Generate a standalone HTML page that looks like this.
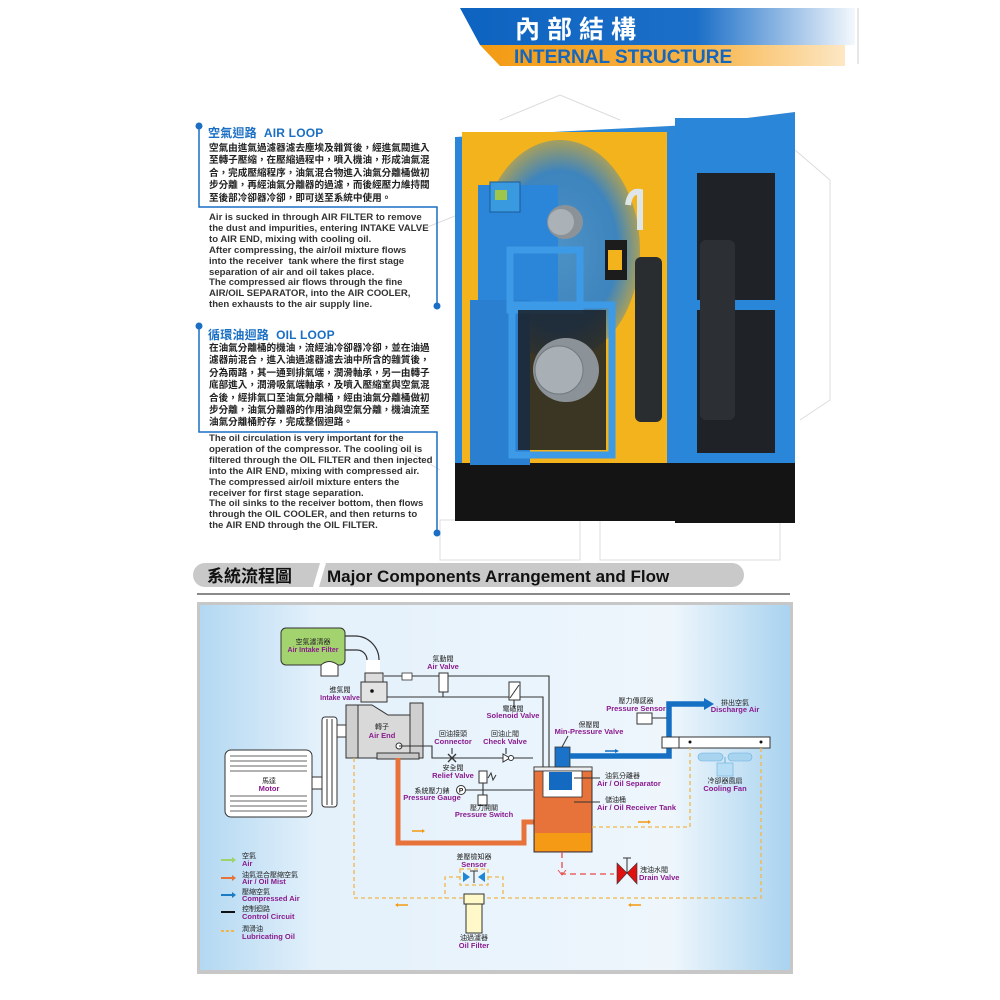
<!DOCTYPE html>
<html><head><meta charset="utf-8">
<style>
html,body{margin:0;padding:0;background:#fff;}
body{width:1000px;height:1000px;position:relative;overflow:hidden;font-family:"Liberation Sans","Noto Sans CJK TC",sans-serif;}
.p{position:absolute;font-weight:bold;color:#222;white-space:nowrap;}
.zh{font-size:9.6px;line-height:12.4px;letter-spacing:0;}
.en{font-size:9.6px;line-height:10.9px;color:#333;}
.ttl{font-size:12px;color:#1a6fc4;font-weight:bold;position:absolute;letter-spacing:0.2px;white-space:nowrap;}
svg{position:absolute;left:0;top:0;}
.b{font-weight:bold;}
</style></head><body>
<svg width="1000" height="1000" viewBox="0 0 1000 1000" font-family="Liberation Sans, Noto Sans CJK TC, sans-serif">
<defs>
<linearGradient id="hb" x1="0" x2="1"><stop offset="0" stop-color="#0d63c0"/><stop offset="0.6" stop-color="#1c6fc8"/><stop offset="1" stop-color="#f4f8fc"/></linearGradient>
<linearGradient id="ho" x1="0" x2="1"><stop offset="0" stop-color="#f39a12"/><stop offset="0.6" stop-color="#f7b448"/><stop offset="1" stop-color="#fde7c4"/></linearGradient>
<linearGradient id="bg" x1="0" x2="1"><stop offset="0" stop-color="#b3d8f2"/><stop offset="0.2" stop-color="#e4f1fb"/><stop offset="0.8" stop-color="#eef6fc"/><stop offset="1" stop-color="#a9d3ef"/></linearGradient>
<radialGradient id="yl" cx="0.5" cy="0.5" r="0.6"><stop offset="0" stop-color="#3a8ed8"/><stop offset="0.6" stop-color="#2a7fcf"/><stop offset="1" stop-color="#f0b21a"/></radialGradient>
</defs>
<!-- header -->
<polygon points="460,8 855,8 855,45 480,45" fill="url(#hb)"/>
<polygon points="480,45 845,45 845,66 500,66" fill="url(#ho)"/>
<line x1="858" y1="8" x2="858" y2="64" stroke="#e6e6e6" stroke-width="2"/>
<text x="515" y="38" font-size="25" class="b" fill="#fff" letter-spacing="7">內部結構</text>
<text x="514" y="63" font-size="19" class="b" fill="#1466be">INTERNAL STRUCTURE</text>
<!-- faint background drawings -->
<g stroke="#dcdcdc" fill="none" stroke-width="1">
<polyline points="500,120 560,95 620,120"/><polyline points="420,230 470,210"/>
<rect x="440" y="520" width="140" height="40"/><rect x="600" y="520" width="180" height="40"/>
<polyline points="795,150 830,180 830,400 800,420"/><polyline points="390,440 440,470"/>
</g>
<!-- machine -->
<polygon points="455,137 690,125 795,112 795,135 690,140" fill="#2e86d6"/>
<rect x="455" y="137" width="220" height="343" fill="#2b85d8"/>
<rect x="462" y="132" width="205" height="331" fill="#f2b31c"/>
<rect x="675" y="118" width="120" height="382" fill="#2a86d8"/>
<rect x="697" y="173" width="78" height="280" fill="#1f2328"/>
<rect x="683" y="300" width="100" height="10" fill="#2a86d8"/>
<rect x="455" y="463" width="220" height="58" fill="#141414"/>
<rect x="675" y="463" width="120" height="60" fill="#141414"/>
<ellipse cx="560" cy="250" rx="80" ry="110" fill="url(#yl)" opacity="0.9"/>
<rect x="478" y="185" width="80" height="120" fill="#2b85d8"/>
<rect x="490" y="182" width="30" height="30" fill="#3a9adf" stroke="#1a5a9a"/>
<rect x="495" y="190" width="12" height="10" fill="#9ec64a"/>
<rect x="470" y="300" width="60" height="165" fill="#2b7fd0"/>
<rect x="510" y="250" width="70" height="60" fill="none" stroke="#3c9ae6" stroke-width="7"/>
<rect x="512" y="305" width="100" height="150" fill="none" stroke="#3c9ae6" stroke-width="7"/>
<rect x="518" y="310" width="88" height="140" fill="#1b1f24" opacity="0.85"/>
<ellipse cx="566" cy="370" rx="33" ry="32" fill="#8b9398"/>
<circle cx="559" cy="370" r="24" fill="#a8b0b5" stroke="#707a80"/>
<ellipse cx="565" cy="222" rx="18" ry="17" fill="#8b9398"/>
<circle cx="561" cy="222" r="13" fill="#aab2b7"/>
<rect x="635" y="257" width="27" height="165" rx="6" fill="#2a2d30"/>
<rect x="700" y="240" width="35" height="180" rx="6" fill="#2c2f33"/>
<rect x="605" y="240" width="22" height="40" fill="#1c1c1c"/>
<rect x="608" y="250" width="14" height="20" fill="#f2b31c"/>
<path d="M628,205 Q630,190 640,192 L640,230" stroke="#dfe6ea" stroke-width="6" fill="none"/>
<!-- text brackets -->
<g stroke="#1a6fc4" stroke-width="1.5" fill="none">
<polyline points="199,128 199,207 437,207 437,304"/>
<polyline points="199,328 199,432 437,432 437,531"/>
</g>
<g fill="#1a6fc4"><circle cx="199" cy="126" r="3.5"/><circle cx="437" cy="306" r="3.5"/><circle cx="199" cy="326" r="3.5"/><circle cx="437" cy="533" r="3.5"/></g>
<!-- section title -->
<path d="M205,563 H732 A12,12 0 0 1 732,587 H205 A12,12 0 0 1 205,563 Z" fill="#c9c9c9"/>
<polygon points="313,587 320,563 326,563 319,587" fill="#fff"/>
<text x="207" y="582" font-size="17" class="b" fill="#111">系統流程圖</text>
<text x="327" y="582" font-size="17" class="b" fill="#111">Major Components Arrangement and Flow</text>
<line x1="197" y1="594" x2="790" y2="594" stroke="#8a8a8a" stroke-width="2"/>
<!-- diagram frame -->
<rect x="197" y="602" width="596" height="372" fill="#c7c7c7"/>
<rect x="200" y="605" width="590" height="365" fill="url(#bg)"/>
<!-- filter -->
<path d="M343,636 H355 A24,24 0 0 1 379,660 V684" stroke="#333" stroke-width="1.2" fill="none"/>
<path d="M343,650 H357 A10,10 0 0 1 367,660 V684" stroke="#333" stroke-width="1.2" fill="none"/>
<rect x="366" y="660" width="14" height="24" fill="#fff"/>
<rect x="281" y="628" width="64" height="37" rx="5" fill="#a3d36e" stroke="#333"/>
<path d="M321,676 V665 Q329,658 338,665 V676 Z" fill="#fff" stroke="#333"/>
<text x="313" y="644" font-size="7" text-anchor="middle" fill="#222">空氣濾清器</text>
<text x="313" y="652" font-size="7" class="b" text-anchor="middle" fill="#8a1b8e">Air Intake Filter</text>
<!-- intake valve & air end -->
<rect x="365" y="673" width="18" height="9" fill="#ddd" stroke="#333"/>
<rect x="361" y="682" width="26" height="20" fill="#e3e3e3" stroke="#333"/>
<circle cx="372" cy="691" r="1.8" fill="#111"/>
<text x="340" y="692" font-size="7" text-anchor="middle" fill="#222">進氣閥</text>
<text x="340" y="700" font-size="7" class="b" text-anchor="middle" fill="#8a1b8e">Intake valve</text>
<path d="M346,705 H372 L388,715 H410 V703 H423 V758 H346 Z" fill="#d9d9d9" stroke="#333"/>
<rect x="346" y="705" width="12" height="53" fill="#cfcfcf" stroke="#333"/>
<rect x="410" y="703" width="13" height="55" fill="#cfcfcf" stroke="#333"/>
<rect x="377" y="753" width="42" height="6" fill="#c8c8c8" stroke="#333"/>
<circle cx="399" cy="746" r="3" fill="#fff" stroke="#333"/>
<text x="382" y="729" font-size="7" text-anchor="middle" fill="#222">轉子</text>
<text x="382" y="738" font-size="7.5" class="b" text-anchor="middle" fill="#8a1b8e">Air End</text>
<!-- pulley & motor -->
<rect x="337" y="725" width="9" height="12" fill="#fff" stroke="#333"/>
<rect x="322" y="717" width="15" height="90" rx="3" fill="#fff" stroke="#333"/>
<line x1="327" y1="719" x2="327" y2="805" stroke="#333"/><line x1="332" y1="719" x2="332" y2="805" stroke="#333"/>
<rect x="312" y="777" width="10" height="12" fill="#fff" stroke="#333"/>
<rect x="225" y="750" width="87" height="67" rx="6" fill="#fff" stroke="#333"/>
<g stroke="#333" stroke-width="0.8"><line x1="230" y1="756" x2="307" y2="756"/><line x1="230" y1="761" x2="307" y2="761"/><line x1="230" y1="766" x2="307" y2="766"/><line x1="230" y1="771" x2="307" y2="771"/><line x1="230" y1="796" x2="307" y2="796"/><line x1="230" y1="801" x2="307" y2="801"/><line x1="230" y1="806" x2="307" y2="806"/><line x1="230" y1="811" x2="307" y2="811"/></g>
<text x="269" y="783" font-size="7" text-anchor="middle" fill="#222">馬達</text>
<text x="269" y="791" font-size="7.5" class="b" text-anchor="middle" fill="#8a1b8e">Motor</text>
<!-- control lines -->
<g stroke="#333" stroke-width="1.1" fill="none">
<polyline points="384,676 549,676 549,767"/>
<polyline points="387,697 543,697 543,767"/>
<polyline points="399,746 432,746 432,758 533,758"/>
<line x1="465" y1="790" x2="533" y2="790"/>
<line x1="483" y1="772" x2="483" y2="795"/>
<line x1="443" y1="692" x2="443" y2="697"/>
<line x1="514" y1="700" x2="514" y2="708"/>
<line x1="452" y1="748" x2="452" y2="754"/>
<line x1="506" y1="748" x2="506" y2="754"/>
</g>
<rect x="402" y="673" width="10" height="7" fill="#fff" stroke="#333" stroke-width="0.8"/>
<rect x="439" y="673" width="9" height="19" fill="#fff" stroke="#333"/>
<text x="443" y="661" font-size="7" text-anchor="middle" fill="#222">氣動閥</text>
<text x="443" y="669" font-size="7.5" class="b" text-anchor="middle" fill="#8a1b8e">Air Valve</text>
<rect x="509" y="682" width="11" height="18" fill="#fff" stroke="#333"/>
<line x1="510" y1="698" x2="519" y2="685" stroke="#333"/>
<text x="513" y="711" font-size="7" text-anchor="middle" fill="#222">電磁閥</text>
<text x="513" y="718" font-size="7.5" class="b" text-anchor="middle" fill="#8a1b8e">Solenoid Valve</text>
<path d="M448,754 L456,762 M456,754 L448,762" stroke="#333" stroke-width="1.3"/>
<text x="453" y="736" font-size="7" text-anchor="middle" fill="#222">回油接頭</text>
<text x="453" y="744" font-size="7.5" class="b" text-anchor="middle" fill="#8a1b8e">Connector</text>
<polygon points="503,754 503,762 510,758" fill="#fff" stroke="#333"/><circle cx="511" cy="758" r="2.5" fill="#fff" stroke="#333"/>
<text x="505" y="736" font-size="7" text-anchor="middle" fill="#222">回油止閥</text>
<text x="505" y="744" font-size="7.5" class="b" text-anchor="middle" fill="#8a1b8e">Check Valve</text>
<text x="453" y="770" font-size="7" text-anchor="middle" fill="#222">安全閥</text>
<text x="453" y="778" font-size="7.5" class="b" text-anchor="middle" fill="#8a1b8e">Relief Valve</text>
<rect x="479" y="771" width="8" height="12" fill="#fff" stroke="#333"/>
<polyline points="488,778 491,773 493,780 496,775" stroke="#333" fill="none"/>
<circle cx="461" cy="790" r="4.5" fill="#fff" stroke="#333"/>
<text x="461" y="792.5" font-size="6.5" class="b" text-anchor="middle" fill="#111">P</text>
<text x="432" y="793" font-size="7" text-anchor="middle" fill="#222">系統壓力錶</text>
<text x="432" y="800" font-size="7.5" class="b" text-anchor="middle" fill="#8a1b8e">Pressure Gauge</text>
<rect x="478" y="795" width="9" height="10" fill="#fff" stroke="#333"/>
<text x="484" y="810" font-size="7" text-anchor="middle" fill="#222">壓力開關</text>
<text x="484" y="817" font-size="7.5" class="b" text-anchor="middle" fill="#8a1b8e">Pressure Switch</text>
<!-- oil pipe -->
<polyline points="398,758 398,843 524,843 524,822 534,822" stroke="#e8733a" stroke-width="5" fill="none"/>
<line x1="412" y1="831" x2="422" y2="831" stroke="#f39a12" stroke-width="1.5"/><polygon points="422,829 425,831 422,833" fill="#f39a12"/>
<!-- tank -->
<rect x="534" y="767" width="58" height="85" fill="#e8733a" stroke="#333"/>
<rect x="535" y="833" width="56" height="18" fill="#f59a14"/>
<rect x="534" y="767" width="58" height="4" fill="#eee" stroke="#333" stroke-width="0.8"/>
<rect x="543" y="771" width="39" height="26" fill="#fff" stroke="#333" stroke-width="0.8"/>
<rect x="549" y="772" width="23" height="18" fill="#1469c0"/>
<rect x="555" y="747" width="15" height="20" fill="#1a73c8" stroke="#333" stroke-width="0.8"/>
<line x1="562" y1="747" x2="568" y2="736" stroke="#333"/>
<text x="589" y="727" font-size="7" text-anchor="middle" fill="#222">保壓閥</text>
<text x="589" y="734" font-size="7.5" class="b" text-anchor="middle" fill="#8a1b8e">Min-Pressure Valve</text>
<g stroke="#333"><line x1="574" y1="778" x2="600" y2="778"/><line x1="574" y1="802" x2="600" y2="802"/></g>
<text x="605" y="778" font-size="7" fill="#222">油氣分離器</text>
<text x="597" y="786" font-size="7.5" class="b" fill="#8a1b8e">Air / Oil Separator</text>
<text x="605" y="802" font-size="7" fill="#222">儲油桶</text>
<text x="597" y="810" font-size="7.5" class="b" fill="#8a1b8e">Air / Oil Receiver Tank</text>
<!-- compressed air -->
<polyline points="570,756 669,756 669,704 705,704" stroke="#1570c3" stroke-width="5.5" fill="none"/>
<polygon points="704,698 714,704 704,710" fill="#1570c3"/>
<line x1="605" y1="751" x2="615" y2="751" stroke="#1570c3" stroke-width="1.5"/><polygon points="615,749 619,751 615,753" fill="#1570c3"/>
<rect x="637" y="713" width="15" height="11" fill="#fff" stroke="#333"/>
<line x1="652" y1="718" x2="667" y2="718" stroke="#333"/>
<text x="636" y="703" font-size="7" text-anchor="middle" fill="#222">壓力傳感器</text>
<text x="636" y="711" font-size="7.5" class="b" text-anchor="middle" fill="#8a1b8e">Pressure Sensor</text>
<text x="735" y="705" font-size="7" text-anchor="middle" fill="#222">排出空氣</text>
<text x="735" y="712" font-size="7.5" class="b" text-anchor="middle" fill="#8a1b8e">Discharge Air</text>
<rect x="662" y="737" width="108" height="11" fill="#fff" stroke="#333"/>
<line x1="679" y1="737" x2="679" y2="748" stroke="#333"/>
<circle cx="690" cy="742" r="1.5" fill="#111"/><circle cx="761" cy="742" r="1.5" fill="#111"/>
<rect x="698" y="753" width="25" height="8" rx="4" fill="#a8d4f0" stroke="#6aaee0" stroke-width="0.6"/>
<rect x="728" y="753" width="24" height="8" rx="4" fill="#a8d4f0" stroke="#6aaee0" stroke-width="0.6"/>
<rect x="717" y="763" width="16" height="13" fill="#b8def5" stroke="#6aaee0" stroke-width="0.6"/>
<line x1="725" y1="757" x2="725" y2="763" stroke="#6aaee0"/>
<text x="725" y="783" font-size="7" text-anchor="middle" fill="#222">冷卻器風扇</text>
<text x="725" y="791" font-size="7.5" class="b" text-anchor="middle" fill="#8a1b8e">Cooling Fan</text>
<!-- lubricating oil dashed -->
<g stroke="#f0b64a" stroke-width="1.3" fill="none" stroke-dasharray="4,3">
<polyline points="354,758 354,898 761,898 761,748"/>
<polyline points="592,827 690,827 690,748"/>
<polyline points="460,877 445,877 445,898"/>
<polyline points="488,877 503,877 503,898"/>
<rect x="460" y="869" width="28" height="16"/>
</g>
<line x1="638" y1="822" x2="648" y2="822" stroke="#f39a12" stroke-width="1.5"/><polygon points="648,820 651,822 648,824" fill="#f39a12"/>
<line x1="398" y1="905" x2="408" y2="905" stroke="#f39a12" stroke-width="1.5"/><polygon points="398,903 395,905 398,907" fill="#f39a12"/>
<line x1="631" y1="905" x2="641" y2="905" stroke="#f39a12" stroke-width="1.5"/><polygon points="631,903 628,905 631,907" fill="#f39a12"/>
<polygon points="463,872 470,877 463,882" fill="#1f86d6"/><polygon points="485,872 478,877 485,882" fill="#1f86d6"/>
<line x1="470" y1="871" x2="478" y2="871" stroke="#333"/><line x1="474" y1="871" x2="474" y2="883" stroke="#333"/>
<text x="474" y="859" font-size="7" text-anchor="middle" fill="#222">差壓檢知器</text>
<text x="474" y="867" font-size="7.5" class="b" text-anchor="middle" fill="#8a1b8e">Sensor</text>
<rect x="464" y="894" width="20" height="10" fill="#fff8c8" stroke="#333"/>
<rect x="466" y="904" width="16" height="29" fill="#fff8c8" stroke="#333"/>
<text x="474" y="940" font-size="7" text-anchor="middle" fill="#222">油過濾器</text>
<text x="474" y="948" font-size="7.5" class="b" text-anchor="middle" fill="#8a1b8e">Oil Filter</text>
<!-- drain -->
<polyline points="562,852 562,874 614,874" stroke="#e8494a" stroke-width="1.3" fill="none" stroke-dasharray="6,4"/>
<polyline points="558,870 562,875 566,870" stroke="#e8494a" fill="none"/>
<polygon points="617,863 627,873 617,884" fill="#e01010" stroke="#333" stroke-width="0.6"/>
<polygon points="637,863 627,873 637,884" fill="#e01010" stroke="#333" stroke-width="0.6"/>
<line x1="627" y1="873" x2="627" y2="858" stroke="#333"/><line x1="623" y1="858" x2="631" y2="858" stroke="#333"/>
<text x="640" y="872" font-size="7" fill="#222">洩油水閥</text>
<text x="639" y="880" font-size="7.5" class="b" fill="#8a1b8e">Drain Valve</text>
<!-- legend -->
<g stroke-width="2">
<line x1="221" y1="860" x2="232" y2="860" stroke="#9ed36a"/><polygon points="232,857 236,860 232,863" fill="#9ed36a"/>
<line x1="221" y1="878" x2="232" y2="878" stroke="#e8733a"/><polygon points="232,875 236,878 232,881" fill="#e8733a"/>
<line x1="221" y1="895" x2="232" y2="895" stroke="#1a7cc4"/><polygon points="232,892 236,895 232,898" fill="#1a7cc4"/>
<line x1="221" y1="912" x2="235" y2="912" stroke="#111"/>
<line x1="221" y1="931" x2="235" y2="931" stroke="#f0b64a" stroke-dasharray="3,2"/>
</g>
<g font-size="7">
<text x="242" y="858" fill="#222">空氣</text><text x="242" y="866" class="b" font-size="7.5" fill="#8a1b8e">Air</text>
<text x="242" y="877" fill="#222">油氣混合壓縮空氣</text><text x="242" y="884" class="b" font-size="7.5" fill="#8a1b8e">Air / Oil Mist</text>
<text x="242" y="894" fill="#222">壓縮空氣</text><text x="242" y="901" class="b" font-size="7.5" fill="#8a1b8e">Compressed Air</text>
<text x="242" y="911" fill="#222">控制迴路</text><text x="242" y="919" class="b" font-size="7.5" fill="#8a1b8e">Control Circuit</text>
<text x="242" y="931" fill="#222">潤滑油</text><text x="242" y="939" class="b" font-size="7.5" fill="#8a1b8e">Lubricating Oil</text>
</g>
</svg>

<div class="ttl" style="left:208px;top:124px;">空氣迴路&nbsp; AIR LOOP</div>
<div class="p zh" style="left:209px;top:143px;">空氣由進氣過濾器濾去塵埃及雜質後，經進氣閥進入<br>至轉子壓縮，在壓縮過程中，噴入機油，形成油氣混<br>合，完成壓縮程序，油氣混合物進入油氣分離桶做初<br>步分離，再經油氣分離器的過濾，而後經壓力維持閥<br>至後部冷卻器冷卻，即可送至系統中使用。</div>
<div class="p en" style="left:209px;top:213px;">Air is sucked in through AIR FILTER to remove<br>the dust and impurities, entering INTAKE VALVE<br>to AIR END, mixing with cooling oil.<br>After compressing, the air/oil mixture flows<br>into the receiver&nbsp; tank where the first stage<br>separation of air and oil takes place.<br>The compressed air flows through the fine<br>AIR/OIL SEPARATOR, into the AIR COOLER,<br>then exhausts to the air supply line.</div>

<div class="ttl" style="left:208px;top:326px;">循環油迴路&nbsp; OIL LOOP</div>
<div class="p zh" style="left:209px;top:343px;">在油氣分離桶的機油，流經油冷卻器冷卻，並在油過<br>濾器前混合，進入油過濾器濾去油中所含的雜質後，<br>分為兩路，其一通到排氣端，潤滑軸承，另一由轉子<br>底部進入，潤滑吸氣端軸承，及噴入壓縮室與空氣混<br>合後，經排氣口至油氣分離桶，經由油氣分離桶做初<br>步分離，油氣分離器的作用油與空氣分離，機油流至<br>油氣分離桶貯存，完成整個迴路。</div>
<div class="p en" style="left:209px;top:434px;">The oil circulation is very important for the<br>operation of the compressor. The cooling oil is<br>filtered through the OIL FILTER and then injected<br>into the AIR END, mixing with compressed air.<br>The compressed air/oil mixture enters the<br>receiver for first stage separation.<br>The oil sinks to the receiver bottom, then flows<br>through the OIL COOLER, and then returns to<br>the AIR END through the OIL FILTER.</div>
</body></html>
